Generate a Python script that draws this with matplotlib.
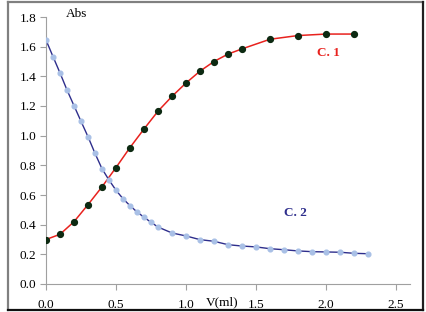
import matplotlib
matplotlib.use("Agg")
import matplotlib.pyplot as plt
from matplotlib.lines import Line2D

# Data
c1_x = [0.0, 0.1, 0.2, 0.3, 0.4, 0.5, 0.6, 0.7, 0.8, 0.9, 1.0, 1.1, 1.2, 1.3, 1.4, 1.6, 1.8, 2.0, 2.2]
c1_y = [0.30, 0.335, 0.42, 0.535, 0.655, 0.785, 0.92, 1.045, 1.165, 1.265, 1.355, 1.435, 1.50,
        1.55, 1.585, 1.65, 1.675, 1.685, 1.685]

c2_x = [0.0, 0.05, 0.1, 0.15, 0.2, 0.25, 0.3, 0.35, 0.4, 0.45, 0.5, 0.55, 0.6, 0.65, 0.7, 0.75,
        0.8, 0.9, 1.0, 1.1, 1.2, 1.3, 1.4, 1.5, 1.6, 1.7, 1.8, 1.9, 2.0, 2.1, 2.2, 2.3]
c2_y = [1.645, 1.533, 1.423, 1.308, 1.202, 1.097, 0.993, 0.881, 0.777, 0.701, 0.632, 0.575,
        0.528, 0.486, 0.45, 0.416, 0.384, 0.344, 0.324, 0.299, 0.288, 0.265, 0.256, 0.25,
        0.238, 0.231, 0.223, 0.218, 0.216, 0.214, 0.207, 0.204]

x_ticks = [0.0, 0.5, 1.0, 1.5, 2.0, 2.5]
y_ticks = [0.0, 0.2, 0.4, 0.6, 0.8, 1.0, 1.2, 1.4, 1.6, 1.8]

plt.rcParams['font.family'] = ['Liberation Serif', 'DejaVu Serif']

fig = plt.figure(figsize=(4.26, 3.12), dpi=100)
ax = fig.add_axes([46/426, 1-284/312, (410-46)/426, (284-17)/312])

ax.plot(c1_x, c1_y, color='#e8221e', lw=1.1, marker='o', ms=4.2,
        mfc='#0d2a12', mec='#0d2a12', zorder=3)
ax.plot(c2_x, c2_y, color='#2e2e8c', lw=1.0, marker='o', ms=3.4,
        mfc='#a9c0e6', mec='#a9c0e6', zorder=4)

ax.set_xlim(0, 2.6)
ax.set_ylim(0, 1.8)
ax.set_xticks(x_ticks)
ax.set_yticks(y_ticks)
ax.set_xticklabels([f"{v:.1f}" for v in x_ticks])
ax.set_yticklabels([f"{v:.1f}" for v in y_ticks])
for s in ['top', 'right']:
    ax.spines[s].set_visible(False)
for s in ['left', 'bottom']:
    ax.spines[s].set_color('#a0a0a0')
    ax.spines[s].set_linewidth(0.8)
ax.tick_params(axis='both', colors='#a0a0a0', labelcolor='black', labelsize=9.5,
               length=4, width=0.8)
ax.tick_params(axis='x', pad=7)
ax.tick_params(axis='y', pad=3)

ax.text(2.02, 1.56, 'C. 1', color='#e8221e', fontsize=9.5, fontweight='bold',
        ha='center', va='center')
ax.text(1.78, 0.48, 'C. 2', color='#2e2e8c', fontsize=9.5, fontweight='bold',
        ha='center', va='center')

fig.text(77/426, 1-14/312, 'Abs', fontsize=9.5, ha='center', va='center')
fig.text(222/426, 1-302/312, 'V(ml)', fontsize=9.5, ha='center', va='center')

# figure frame
fig.add_artist(Line2D([8/426, 8/426], [1-1.5/312, 1-310/312], transform=fig.transFigure,
                      color='#808080', lw=1.6))
fig.add_artist(Line2D([8/426, 423/426], [1-1.5/312, 1-1.5/312], transform=fig.transFigure,
                      color='#808080', lw=1.6))
fig.add_artist(Line2D([423/426, 423/426], [1-1.5/312, 1-310/312], transform=fig.transFigure,
                      color='#202020', lw=1.6))
fig.add_artist(Line2D([8/426, 423/426], [1-310/312, 1-310/312], transform=fig.transFigure,
                      color='#101010', lw=1.6))

fig.savefig('out.png', dpi=100)
